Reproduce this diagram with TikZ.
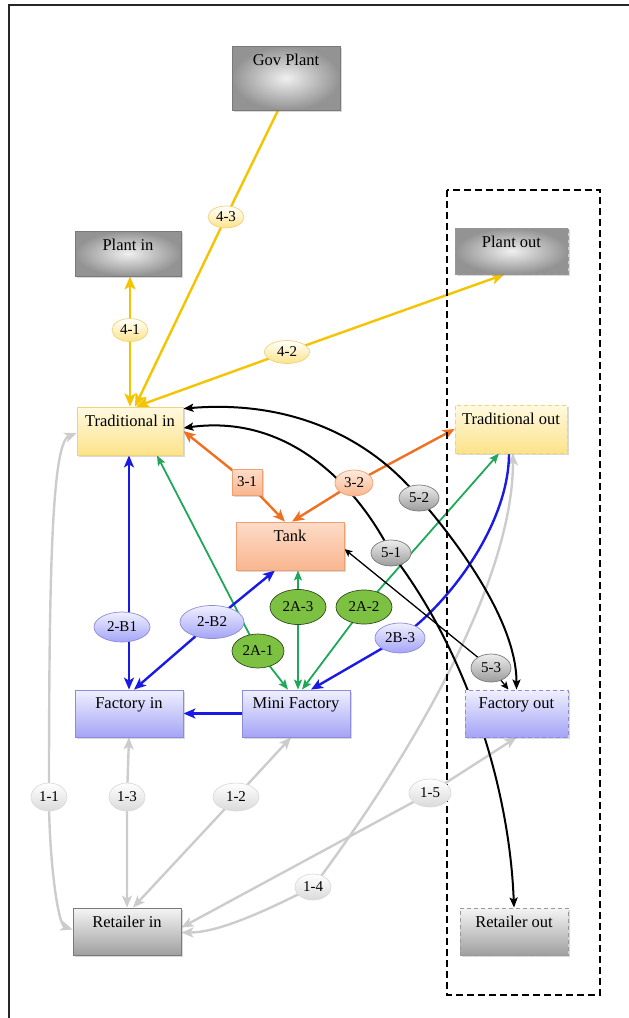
\documentclass[tikz,border=0pt]{standalone}
\usepackage{fontspec}
\setmainfont{Liberation Serif}
\usetikzlibrary{arrows.meta,shapes.geometric,shadows,backgrounds}
\definecolor{goldE}{HTML}{F5C400}
\definecolor{orangeE}{HTML}{F07020}
\definecolor{greenE}{HTML}{1FA85A}
\definecolor{blueE}{HTML}{1A1AE6}
\definecolor{greyE}{HTML}{CCCCCC}
\definecolor{ybT}{HTML}{FFF9E0}
\definecolor{ybB}{HTML}{FCE38A}
\definecolor{ybD}{HTML}{EFD27A}
\definecolor{obT}{HTML}{FDDCC8}
\definecolor{obB}{HTML}{F9B68F}
\definecolor{obD}{HTML}{F0A070}
\definecolor{bbT}{HTML}{F0F0FF}
\definecolor{bbB}{HTML}{A4A4F6}
\definecolor{bbD}{HTML}{8C8CDC}
\definecolor{gbD}{HTML}{7A7A7A}
\definecolor{glabT}{HTML}{EDEDED}
\definecolor{glabB}{HTML}{9C9C9C}
\definecolor{greenF}{HTML}{7DC142}
\definecolor{greenD}{HTML}{2F4A1F}
\definecolor{lgT}{HTML}{FFFFFF}
\definecolor{lgB}{HTML}{DADADA}
\newcommand\boxtxt[2]{\vbox to #1{\vskip 8pt\hbox{#2}\vss}}
\tikzset{
  box/.style={draw, inner sep=0pt, line width=0.8pt, font=\fontsize{16.5}{18}\selectfont,
    drop shadow={shadow xshift=2pt,shadow yshift=-2pt,opacity=.3}},
  ybox/.style={top color=ybT, bottom color=ybB, draw=ybD},
  obox/.style={top color=obT, bottom color=obB, draw=obD},
  bbox/.style={top color=bbT, bottom color=bbB, draw=bbD},
  gbox/.style={shading=radial, inner color=gray!12, outer color=gray!85, draw=gbD},
  gbox2/.style={top color=gray!8, bottom color=gray!75, draw=gbD},
  dbox/.style={dash pattern=on 4pt off 3pt, draw=gray!80},
  lab/.style={ellipse, inner sep=0pt, line width=0.7pt, font=\fontsize{15}{15}\selectfont},
  ylab/.style={lab, top color=white, bottom color=ybB, draw=ybD},
  olab/.style={lab, top color=obT!60!white, bottom color=obB, draw=obD},
  glab/.style={lab, top color=glabT, bottom color=glabB, draw=gbD},
  grlab/.style={lab, fill=greenF, draw=greenD},
  blab/.style={lab, top color=bbT, bottom color=bbB, draw=bbD},
  llab/.style={lab, top color=lgT, bottom color=lgB, draw=lgB},
  goldedge/.style={draw=goldE, line width=2.4pt, >={Stealth[length=13pt,width=11pt,inset=3pt]}},
  orangeedge/.style={draw=orangeE, line width=2.4pt, >={Stealth[length=12pt,width=10pt,inset=3pt]}},
  blackedge/.style={draw=black, line width=2pt, >={Stealth[length=10pt,width=8pt,inset=2pt]}},
  thinblack/.style={draw=black, line width=1.3pt, >={Stealth[length=8pt,width=7pt,inset=2pt]}},
  greenedge/.style={draw=greenE, line width=1.8pt, >={Stealth[length=10pt,width=8pt,inset=2pt]}},
  blueedge/.style={draw=blueE, line width=2.4pt, >={Stealth[length=12pt,width=10pt,inset=3pt]}},
  greyedge/.style={draw=greyE, line width=2.4pt, >={Stealth[length=12pt,width=10pt,inset=3pt]}},
}
\begin{document}
\begin{tikzpicture}[x=1pt,y=-1pt]
\useasboundingbox (0,0) rectangle (629,1018);
% outer frame
\draw[line width=1.8pt, draw=black!85] (9,1018) -- (9,5) -- (629,5);
% dashed enclosure
\draw[line width=1.6pt, dash pattern=on 7pt off 4pt] (447,190) rectangle (600,995);

% main boxes
\node[box, gbox, minimum width=108pt] (gov) at (286,78) {\boxtxt{64pt}{Gov Plant}};
\node[box, gbox, minimum width=106pt] (pin) at (128,253.5) {\boxtxt{45pt}{Plant in}};
\node[box, gbox, dbox, minimum width=113pt] (pout) at (511.5,251) {\boxtxt{46pt}{Plant out}};
\node[box, ybox, minimum width=106pt] (trad) at (130,431) {\boxtxt{48pt}{Traditional in}};
\node[box, ybox, dbox, draw=ybD, minimum width=112pt] (tout) at (511,429) {\boxtxt{48pt}{Traditional out}};
\node[box, obox, minimum width=108pt] (tank) at (290,546) {\boxtxt{48pt}{Tank}};
\node[box, bbox, minimum width=108pt] (fin) at (129,713.5) {\boxtxt{47pt}{Factory in}};
\node[box, bbox, minimum width=108pt] (mini) at (296,713.5) {\boxtxt{47pt}{Mini Factory}};
\node[box, bbox, dbox, draw=bbD, minimum width=103pt] (fout) at (516.5,713.5) {\boxtxt{47pt}{Factory out}};
\node[box, gbox2, minimum width=108pt] (rin) at (127,931.5) {\boxtxt{47pt}{Retailer in}};
\node[box, gbox2, dbox, minimum width=108pt] (rout) at (514,931.5) {\boxtxt{47pt}{Retailer out}};

% labels
\node[ylab, minimum width=36pt, minimum height=22pt] (l43) at (226,217) {4-3};
\node[ylab, minimum width=36pt, minimum height=23pt] (l41) at (130,330) {4-1};
\node[ylab, minimum width=45pt, minimum height=23pt] (l42) at (287,352) {4-2};
\node[box, obox, rectangle, minimum width=30pt, minimum height=26pt, font=\fontsize{15}{15}\selectfont, drop shadow={shadow xshift=1pt,shadow yshift=-1pt,opacity=.3}] (l31) at (247,482) {3-1};
\node[olab, minimum width=38pt, minimum height=26pt] (l32) at (354,483) {3-2};
\node[glab, minimum width=40pt, minimum height=26pt] (l52) at (419,498) {5-2};
\node[glab, minimum width=40pt, minimum height=26pt] (l51) at (391,553) {5-1};
\node[glab, minimum width=40pt, minimum height=28pt] (l53) at (491,668) {5-3};
\node[grlab, minimum width=56pt, minimum height=35pt] (l2a3) at (298,607) {2A-3};
\node[grlab, minimum width=56pt, minimum height=34pt] (l2a2) at (364,607) {2A-2};
\node[grlab, minimum width=52pt, minimum height=34pt] (l2a1) at (258,651) {2A-1};
\node[blab, minimum width=56pt, minimum height=30pt] (l2b1) at (122,627) {2-B1};
\node[blab, minimum width=64pt, minimum height=33pt] (l2b2) at (212,622) {2-B2};
\node[blab, minimum width=50pt, minimum height=30pt] (l2b3) at (400,638) {2B-3};
\node[llab, minimum width=36pt, minimum height=28pt] (l11) at (49,797) {1-1};
\node[llab, minimum width=36pt, minimum height=28pt] (l13) at (127,797) {1-3};
\node[llab, minimum width=46pt, minimum height=28pt] (l12) at (236,797) {1-2};
\node[llab, minimum width=42pt, minimum height=28pt] (l15) at (430,793) {1-5};
\node[llab, minimum width=36pt, minimum height=26pt] (l14) at (313,887) {1-4};

\begin{scope}[on background layer]
% grey (1-x)
\draw[greyedge,<->] ([yshift=-2pt]trad.west) .. controls +(-25,10) and +(0,-220) .. (l11.center)
  .. controls +(0,60) and +(-15,-5) .. ([yshift=2pt]rin.west);
\draw[greyedge,<->] (fin.south) -- (l13.center) -- (rin.north);
\draw[greyedge,<->] ([xshift=-5pt]mini.south) -- (l12.center) -- ([xshift=6pt]rin.north);
\draw[greyedge,<->] ([xshift=2pt]tout.south) .. controls +(0,150) and +(60,-80) .. (l14.center)
  .. controls +(-40,20) and +(40,0) .. ([yshift=-1pt]rin.east);
\draw[greyedge,<->] (fout.south) -- (l15.center) -- ([yshift=4pt]rin.east);
% green
\draw[greenedge,<->] ([xshift=-8pt]mini.north) -- (l2a1.center) -- ([xshift=27pt]trad.south);
\draw[greenedge,<->] ([xshift=2pt]mini.north) -- (l2a3.center) -- ([xshift=8pt]tank.south);
\draw[greenedge,<->] ([xshift=6pt]mini.north) -- (l2a2.center) -- ([xshift=-12pt]tout.south);
% blue
\draw[blueedge,<->] ([xshift=-1pt]trad.south) -- ([xshift=0pt]fin.north);
\draw[blueedge,<->] ([xshift=-15pt]tank.south) -- (l2b2.center) -- ([xshift=5pt]fin.north);
\draw[blueedge,->] (mini.west) -- (fin.east);
\draw[blueedge,->] ([xshift=-2pt]tout.south) .. controls +(0,70) and +(50,-35) .. (l2b3.center)
  -- ([xshift=15pt]mini.north);
% orange
\draw[orangeedge,<->] (trad.east) -- (l31.center) -- ([xshift=-5pt]tank.north);
\draw[orangeedge,<->] (tout.west) -- (l32.center) -- ([xshift=2pt]tank.north);
% black
\draw[blackedge,<->] ([yshift=-2pt]trad.north east) .. controls +(120,-10) and +(-40,-50) .. (l52.center)
  .. controls +(35,40) and +(0,-70) .. (fout.north);
\draw[blackedge,<->] ([yshift=3pt]trad.east) .. controls +(110,-15) and +(-30,-60) .. (l51.center)
  .. controls +(70,90) and +(-5,-130) .. (rout.north);
\draw[thinblack,<->] ([yshift=-3pt]tank.east) -- (l53.center) -- ([xshift=-8pt]fout.north);
% yellow
\draw[goldedge,->] ([xshift=-8pt]gov.south) -- (l43.center) -- ([xshift=5pt]trad.north);
\draw[goldedge,<->] (trad.north) -- (l41.center) -- ([xshift=2pt]pin.south);
\draw[goldedge,<->] ([xshift=6pt]trad.north) -- (l42.center) -- ([xshift=-7pt]pout.south);
\end{scope}
\end{tikzpicture}
\end{document}
